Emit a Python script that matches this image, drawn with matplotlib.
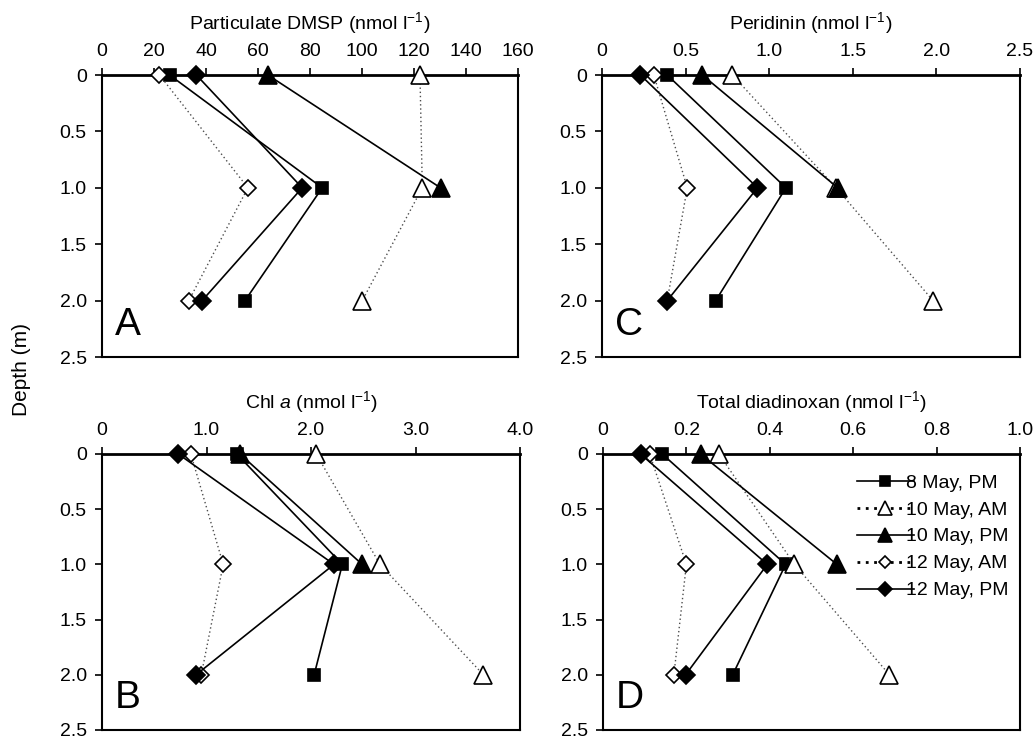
import matplotlib
matplotlib.use("Agg")
import matplotlib.pyplot as plt
import numpy as np

plt.rcParams['font.family'] = ['Liberation Sans', 'DejaVu Sans']
plt.rcParams['mathtext.fontset'] = 'custom'
plt.rcParams['mathtext.rm'] = 'Liberation Sans'
plt.rcParams['mathtext.it'] = 'Liberation Sans:italic'

depth = [0, 1.0, 2.0]
series = ["8 May, PM", "10 May, AM", "10 May, PM", "12 May, AM", "12 May, PM"]
nan = np.nan

# particulate DMSP (nmol l-1)
dmsp = {
    "8 May, PM": [26, 84.7, 55],
    "10 May, AM": [122.3, 123.2, 100.1],
    "10 May, PM": [63.8, 130.2, nan],
    "12 May, AM": [22.1, 56.1, 33.4],
    "12 May, PM": [36.3, 77.0, 38.5],
}
# chl a
chla = {
    "8 May, PM": [1.29, 2.30, 2.03],
    "10 May, AM": [2.05, 2.66, 3.65],
    "10 May, PM": [1.32, 2.49, nan],
    "12 May, AM": [0.85, 1.16, 0.95],
    "12 May, PM": [0.73, 2.22, 0.90],
}
# peridinin
peri = {
    "8 May, PM": [0.39, 1.10, 0.68],
    "10 May, AM": [0.78, 1.40, 1.98],
    "10 May, PM": [0.60, 1.41, nan],
    "12 May, AM": [0.31, 0.51, 0.39],
    "12 May, PM": [0.23, 0.93, 0.39],
}
# total diadinoxanthin
diad = {
    "8 May, PM": [0.142, 0.438, 0.311],
    "10 May, AM": [0.278, 0.459, 0.687],
    "10 May, PM": [0.234, 0.561, nan],
    "12 May, AM": [0.112, 0.200, 0.170],
    "12 May, PM": [0.090, 0.394, 0.198],
}

styles = {
    "8 May, PM": dict(marker='s', ms=9, mfc='black', ls='-', color='black', lw=1.2),
    "10 May, AM": dict(marker='^', ms=13, mfc='white', ls=(0, (1, 2)), color='0.3', lw=1.0),
    "10 May, PM": dict(marker='^', ms=13, mfc='black', ls='-', color='black', lw=1.2),
    "12 May, AM": dict(marker='D', ms=8, mfc='white', ls=(0, (1, 2)), color='0.3', lw=1.0),
    "12 May, PM": dict(marker='D', ms=9, mfc='black', ls='-', color='black', lw=1.2),
}

fig = plt.figure(figsize=(10.33, 7.4), dpi=100)

W, H = 1033, 740
def box(l, r, t, b):
    return [l / W, 1 - b / H, (r - l) / W, (b - t) / H]

panels = [
    (box(102, 518, 75, 357), dmsp, "Particulate DMSP (nmol l$^{-1}$)", 160, [0, 20, 40, 60, 80, 100, 120, 140, 160],
     ["0", "20", "40", "60", "80", "100", "120", "140", "160"], "A"),
    (box(602, 1020, 75, 357), peri, "Peridinin (nmol l$^{-1}$)", 2.5, [0, 0.5, 1.0, 1.5, 2.0, 2.5],
     ["0", "0.5", "1.0", "1.5", "2.0", "2.5"], "C"),
    (box(102, 520, 454, 730), chla, "Chl $a$ (nmol l$^{-1}$)", 4.0, [0, 1, 2, 3, 4],
     ["0", "1.0", "2.0", "3.0", "4.0"], "B"),
    (box(603, 1020, 454, 730), diad, "Total diadinoxan (nmol l$^{-1}$)", 1.0, [0, 0.2, 0.4, 0.6, 0.8, 1.0],
     ["0", "0.2", "0.4", "0.6", "0.8", "1.0"], "D"),
]

for rect, data, label, xmax, xt, xtl, letter in panels:
    ax = fig.add_axes(rect)
    for name in series:
        st = styles[name]
        ax.plot(data[name], depth, marker=st['marker'], markersize=st['ms'],
                markerfacecolor=st['mfc'], markeredgecolor='black', markeredgewidth=1.2,
                linestyle=st['ls'], color=st['color'], linewidth=st['lw'],
                clip_on=False, zorder=5, label=name)
    ax.set_xlim(0, xmax)
    ax.set_ylim(2.5, 0)
    ax.xaxis.tick_top()
    ax.xaxis.set_label_position('top')
    ax.set_xticks(xt)
    ax.set_xticklabels(xtl)
    ax.set_yticks([0, 0.5, 1.0, 1.5, 2.0, 2.5])
    ax.set_yticklabels(["0", "0.5", "1.0", "1.5", "2.0", "2.5"])
    ax.set_xlabel(label, fontsize=14, labelpad=10)
    ax.tick_params(axis='both', labelsize=14, direction='out', length=5, width=1.2, pad=6)
    for s in ['left', 'right', 'bottom']:
        ax.spines[s].set_linewidth(1.5)
    ax.spines['top'].set_linewidth(2.0)
    ax.text(0.03, 0.05, letter, transform=ax.transAxes, fontsize=28, va='bottom', ha='left')
    if letter == "D":
        leg = ax.legend(loc='upper right', bbox_to_anchor=(1.0, 0.97), frameon=False, fontsize=14,
                        handlelength=2.9, handletextpad=-0.4, labelspacing=0.48, borderaxespad=0.2,
                        markerscale=0.75)
        for h in leg.get_lines():
            if h.get_linestyle() != '-':
                h.set_color('black')
                h.set_linewidth(2.0)

fig.text(0.021, 0.5, "Depth (m)", rotation=90, va='center', ha='center', fontsize=15)

fig.savefig("out.png", dpi=100)
